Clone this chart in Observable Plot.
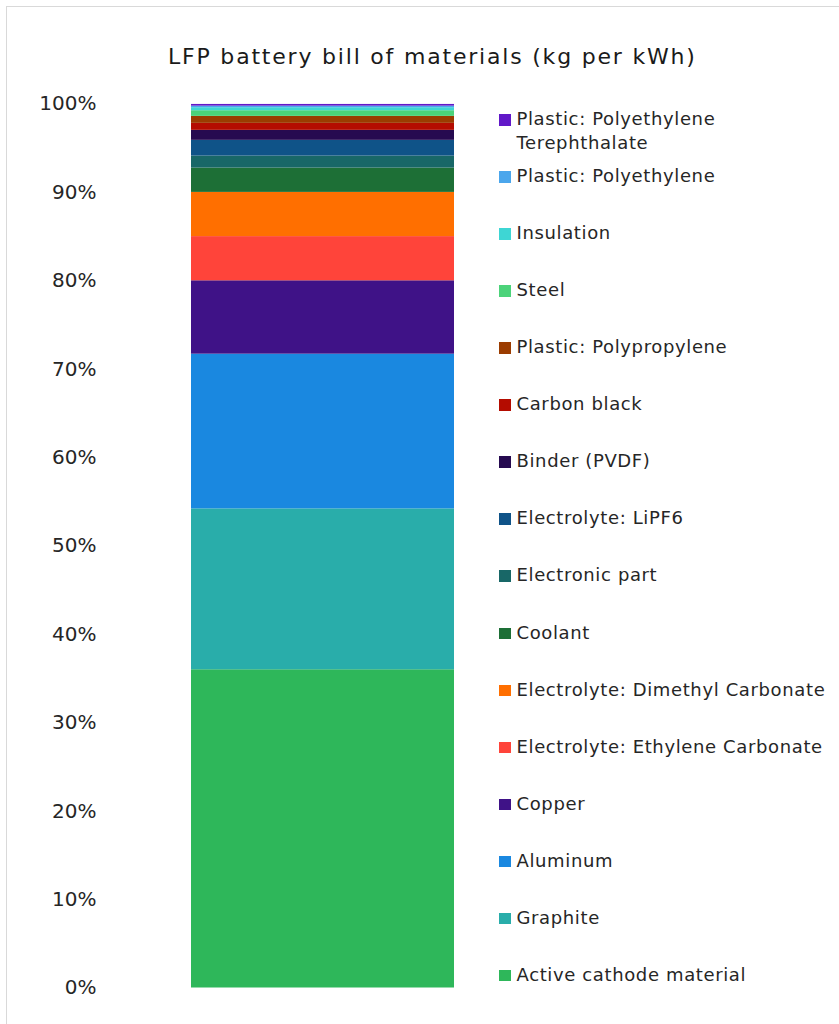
<!DOCTYPE html>
<html><head><meta charset="utf-8">
<script src="https://cdn.jsdelivr.net/npm/d3@7"></script>
<script src="https://cdn.jsdelivr.net/npm/@observablehq/plot@0.6"></script>
<style>
html,body{margin:0;padding:0;background:#fff;overflow:hidden;width:839px;height:1024px;}
body{font-family:"DejaVu Sans",sans-serif;position:relative;}
#frame{position:absolute;left:6px;top:6px;width:900px;height:1100px;border:1px solid #d9d9d9;box-sizing:border-box;}
#title{position:absolute;left:168px;top:44px;white-space:nowrap;font-size:22px;line-height:26px;letter-spacing:1.8px;color:#1a1a1a;}
#chart{position:absolute;left:0;top:0;}
#legend{position:absolute;left:0;top:0;}
.item{position:absolute;left:499px;width:340px;display:flex;align-items:flex-start;font-size:18px;letter-spacing:0.63px;color:#262626;line-height:24px;}
.sw{width:11.5px;height:11.5px;margin-top:7px;margin-right:6px;flex:none;}
</style></head>
<body>
<div id="frame"></div>
<div id="title">LFP battery bill of materials (kg per kWh)</div>
<div id="chart"></div>
<div id="legend"></div>
<script>
// Stack order, bottom to top
const materials = [
  "Active cathode material",
  "Graphite",
  "Aluminum",
  "Copper",
  "Electrolyte: Ethylene Carbonate",
  "Electrolyte: Dimethyl Carbonate",
  "Coolant",
  "Electronic part",
  "Electrolyte: LiPF6",
  "Binder (PVDF)",
  "Carbon black",
  "Plastic: Polypropylene",
  "Steel",
  "Insulation",
  "Plastic: Polyethylene",
  "Plastic: Polyethylene Terephthalate"
];
// Share of total mass (%)
const shares = [36.0, 18.2, 17.5, 8.3, 5.0, 5.0, 2.75, 1.36, 1.78, 1.13, 0.79, 0.79, 0.64, 0.34, 0.18, 0.19];
const colors = [
  "#2eb75a", "#29adaa", "#1a88e0", "#3f1287", "#ff443a", "#ff6f00",
  "#1d6f36", "#186767", "#0f5388", "#260a50", "#b40c00", "#9b3c00",
  "#4cd37a", "#3ed6d4", "#4ba6ec", "#6118c8"
];
const yTicks = [0, 10, 20, 30, 40, 50, 60, 70, 80, 90, 100];

const data = materials.map((m, i) => ({material: m, share: shares[i], group: "LFP"}));

const chart = Plot.plot({
  width: 839,
  height: 1024,
  marginTop: 103.5,
  marginBottom: 36.5,
  marginLeft: 191,
  marginRight: 385,
  style: {fontFamily: '"DejaVu Sans", sans-serif', fontSize: "20px", color: "#262626", background: "transparent"},
  x: {domain: ["LFP"], padding: 0, axis: null},
  y: {domain: [0, 100], ticks: yTicks, tickFormat: d => d + "%", tickSize: 0, tickPadding: 95, label: null},
  color: {domain: materials, range: colors},
  marks: [
    Plot.barY(data, {x: "group", y: "share", fill: "material", order: null}),
    Plot.axisY({ticks: yTicks, tickFormat: d => d + "%", tickSize: 0, tickPadding: 95, label: null, fontSize: 20})
  ]
});
document.getElementById("chart").appendChild(chart);

// Legend (reverse order, top to bottom)
const legend = document.getElementById("legend");
materials.slice().reverse().forEach((m, i) => {
  const ci = materials.indexOf(m);
  const center = i === 0 ? 118 : 175 + (i - 1) * 57.07;
  const div = document.createElement("div");
  div.className = "item";
  div.style.top = (center - 11) + "px";
  const sw = document.createElement("div");
  sw.className = "sw";
  sw.style.background = colors[ci];
  const t = document.createElement("div");
  t.textContent = m;
  t.style.width = "316px";
  div.appendChild(sw);
  div.appendChild(t);
  legend.appendChild(div);
});
</script>
</body></html>
